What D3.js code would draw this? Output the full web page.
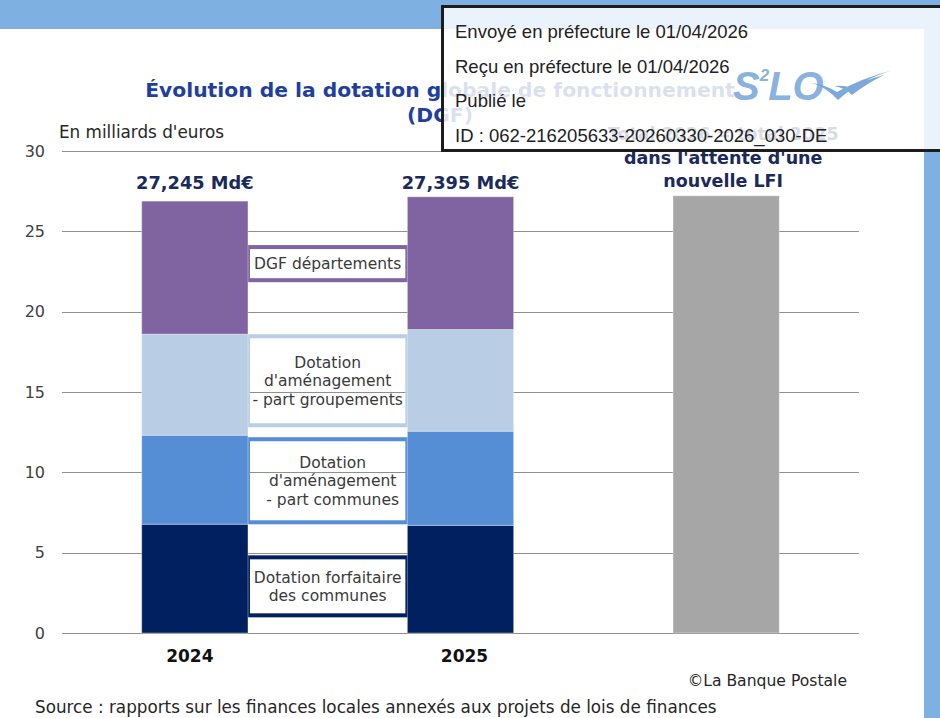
<!DOCTYPE html>
<html><head><meta charset="utf-8">
<script src="https://cdn.jsdelivr.net/npm/d3@7"></script>
<style>html,body{margin:0;padding:0;background:#fff;} svg{display:block}</style>
</head><body>
<svg id="chart" width="940" height="718"></svg>
<script>
// ---------- DATA ----------
const categories = ["2024", "2025", "2026"];
const seriesKeys = ["forfaitaire", "amenCommunes", "amenGroupements", "dgfDepartements"];
const forfaitaire = [6.77, 6.70];
const amenCommunes = [5.54, 5.86];
const amenGroupements = [6.29, 6.33];
const dgfDepartements = [8.28, 8.26];
const total2026 = [27.21];
const totalLabels = ["27,245 Md€", "27,395 Md€"];
const yTicks = [0, 5, 10, 15, 20, 25, 30];
const xTickLabels = ["2024", "2025", ""];
const calloutLabels = [
  ["Dotation forfaitaire", "des communes"],
  ["Dotation", "d'aménagement", "- part communes"],
  ["Dotation", "d'aménagement", "- part groupements"],
  ["DGF départements"]
];
const note2026 = ["Total 2026 = total 2025", "dans l'attente d'une", "nouvelle LFI"];
const titleLines = ["Évolution de la dotation globale de fonctionnement", "(DGF)"];
const unitLabel = "En milliards d'euros";
const copyright = "©La Banque Postale";
const sourceText = "Source : rapports sur les finances locales annexés aux projets de lois de finances";
const stampLines = ["Envoyé en préfecture le 01/04/2026", "Reçu en préfecture le 01/04/2026", "Publié le", "ID : 062-216205633-20260330-2026_030-DE"];

// ---------- LAYOUT / STYLE ----------
const colors = {
  forfaitaire: "#002060",
  amenCommunes: "#558ED5",
  amenGroupements: "#B9CDE5",
  dgfDepartements: "#8064A2",
  total: "#A6A6A6"
};
// callout box extents expressed in axis units
const calloutSpans = [[1.10, 4.71], [6.89, 12.06], [12.93, 18.47], [21.96, 24.02]];
const FONT = "'DejaVu Sans', sans-serif";

const svg = d3.select("#chart");

// background bands
svg.append("rect").attr("x", 0).attr("y", 0).attr("width", 940).attr("height", 718).attr("fill", "#fff");
svg.append("rect").attr("x", 0).attr("y", 0).attr("width", 940).attr("height", 29).attr("fill", "#7EB0E2");
svg.append("rect").attr("x", 924).attr("y", 0).attr("width", 16).attr("height", 718).attr("fill", "#7EB0E2");

const x = d3.scaleBand().domain(categories).range([62, 859]).paddingInner(0.6).paddingOuter(0.3);
const y = d3.scaleLinear().domain([0, 30]).range([633, 151]);

// title
svg.append("g").selectAll("text").data(titleLines).join("text")
  .attr("x", 440).attr("y", (d, i) => 97 + i * 25)
  .attr("text-anchor", "middle")
  .attr("font-family", FONT).attr("font-weight", "bold").attr("font-size", 20.3)
  .attr("fill", "#1f3f9f").text(d => d);

// unit label
svg.append("text").attr("x", 59).attr("y", 138)
  .attr("font-family", FONT).attr("font-size", 16.8).attr("fill", "#262626").text(unitLabel);

// gridlines + y axis
const yAxis = d3.axisLeft(y).tickValues(yTicks).tickSize(0).tickPadding(0).tickFormat(d3.format("d"));
const yg = svg.append("g").attr("transform", "translate(45,0)").call(yAxis);
yg.select(".domain").remove();
yg.selectAll("text").attr("font-family", FONT).attr("font-size", 16).attr("fill", "#404040");

svg.append("g").selectAll("line").data(yTicks).join("line")
  .attr("x1", 62).attr("x2", 859)
  .attr("y1", d => Math.round(y(d)) + 0.5).attr("y2", d => Math.round(y(d)) + 0.5)
  .attr("stroke", "#8f8f8f").attr("stroke-width", 1);

// callout boxes between bars
const cx0 = x("2024") + x.bandwidth();
const cx1 = x("2025");
svg.append("g").selectAll("rect").data(calloutSpans).join("rect")
  .attr("x", cx0).attr("width", cx1 - cx0)
  .attr("y", d => y(d[1])).attr("height", d => y(d[0]) - y(d[1]))
  .attr("fill", "none")
  .attr("stroke", (d, i) => colors[seriesKeys[i]]).attr("stroke-width", 4);

// stacked bars
const rows = [0, 1].map(i => ({
  cat: categories[i],
  forfaitaire: forfaitaire[i],
  amenCommunes: amenCommunes[i],
  amenGroupements: amenGroupements[i],
  dgfDepartements: dgfDepartements[i]
}));
const stacked = d3.stack().keys(seriesKeys)(rows);
svg.append("g").selectAll("g").data(stacked).join("g")
  .attr("fill", d => colors[d.key])
  .selectAll("rect").data(d => d).join("rect")
  .attr("x", d => x(d.data.cat)).attr("width", x.bandwidth())
  .attr("y", d => y(d[1])).attr("height", d => y(d[0]) - y(d[1]))
  .attr("stroke", "#ffffff").attr("stroke-opacity", 0.35).attr("stroke-width", 1);

// 2026 total bar
svg.append("g").selectAll("rect").data(total2026).join("rect")
  .attr("x", x("2026")).attr("width", x.bandwidth())
  .attr("y", d => y(d)).attr("height", d => y(0) - y(d))
  .attr("fill", colors.total).attr("stroke", "#ffffff").attr("stroke-opacity", 0.35);

// callout texts
const cxm = (cx0 + cx1) / 2;
const lh = 18.5;
calloutSpans.forEach((span, i) => {
  const lines = calloutLabels[i];
  const mid = (y(span[0]) + y(span[1])) / 2;
  svg.append("g").selectAll("text").data(lines).join("text")
    .attr("x", cxm + (i === 1 ? 5 : 0))
    .attr("y", (d, j) => mid + (j - (lines.length - 1) / 2) * lh)
    .attr("dy", "0.36em")
    .attr("text-anchor", "middle")
    .attr("font-family", FONT).attr("font-size", 15.5).attr("fill", "#3a3a3a")
    .text(d => d);
});

// total labels (aligned on a common baseline above the tallest stack)
const stackTotals = [0, 1].map(i => forfaitaire[i] + amenCommunes[i] + amenGroupements[i] + dgfDepartements[i]);
const labelBaseline = y(d3.max(stackTotals)) - 8;
svg.append("g").selectAll("text").data(totalLabels).join("text")
  .attr("x", (d, i) => x(categories[i]) + x.bandwidth() / 2)
  .attr("y", labelBaseline)
  .attr("text-anchor", "middle")
  .attr("font-family", FONT).attr("font-weight", "bold").attr("font-size", 17.8)
  .attr("fill", "#1b2a5c").text(d => d);

// 2026 note
svg.append("g").selectAll("text").data(note2026).join("text")
  .attr("x", x("2026") + x.bandwidth() / 2 - 3)
  .attr("y", (d, i) => 140 + i * 23.5)
  .attr("text-anchor", "middle")
  .attr("font-family", FONT).attr("font-weight", "bold").attr("font-size", 17.5)
  .attr("fill", "#1b2a5c").text(d => d);

// x labels
const xAxis = d3.axisBottom(x).tickSize(0).tickPadding(0).tickFormat((d, i) => xTickLabels[i]);
const xg = svg.append("g").attr("transform", "translate(0,650)").call(xAxis);
xg.select(".domain").remove();
xg.selectAll("text").attr("font-family", FONT).attr("font-weight", "bold").attr("font-size", 17).attr("fill", "#111")
  .attr("dx", (d, i) => i === 0 ? -5 : (i === 1 ? 4 : 0));

// footer
svg.append("text").attr("x", 847).attr("y", 686).attr("text-anchor", "end")
  .attr("font-family", FONT).attr("font-size", 15.6).attr("fill", "#262626").text(copyright);
svg.append("text").attr("x", 35).attr("y", 713)
  .attr("font-family", FONT).attr("font-size", 16.8).attr("fill", "#262626").text(sourceText);

// stamp
const stamp = svg.append("g");
stamp.append("rect").attr("x", 442.5).attr("y", 6.5).attr("width", 520).attr("height", 144)
  .attr("fill", "#ffffff").attr("fill-opacity", 0.84)
  .attr("stroke", "#1c1c1c").attr("stroke-width", 3);
// S2LO logo
const logo = stamp.append("text").attr("x", 733).attr("y", 100)
  .attr("font-family", "'Liberation Sans', Arial, sans-serif").attr("font-weight", "bold")
  .attr("font-style", "italic").attr("font-size", 40).attr("fill", "#7aa7db").attr("fill-opacity", 0.9);
logo.append("tspan").text("S");
logo.append("tspan").attr("font-size", 17).attr("dy", -19).text("2");
logo.append("tspan").attr("dy", 19).attr("dx", -1).text("LO");
stamp.append("path")
  .attr("d", "M812,83 Q826,87 838,100 Q860,80 893,70 Q862,78 837,92 Q826,85 812,83 Z M834,86 Q845,88 852,95 Q866,84 884,75 Q864,80 852,88 Q844,85 834,86 Z")
  .attr("fill", "#6f9fd6").attr("fill-opacity", 0.9);
stamp.append("g").selectAll("text").data(stampLines).join("text")
  .attr("x", 455).attr("y", (d, i) => 38 + i * 34.6)
  .attr("font-family", "'Liberation Sans', Arial, sans-serif").attr("font-size", 18.5)
  .attr("fill", "#222").text(d => d);
</script>
</body></html>
